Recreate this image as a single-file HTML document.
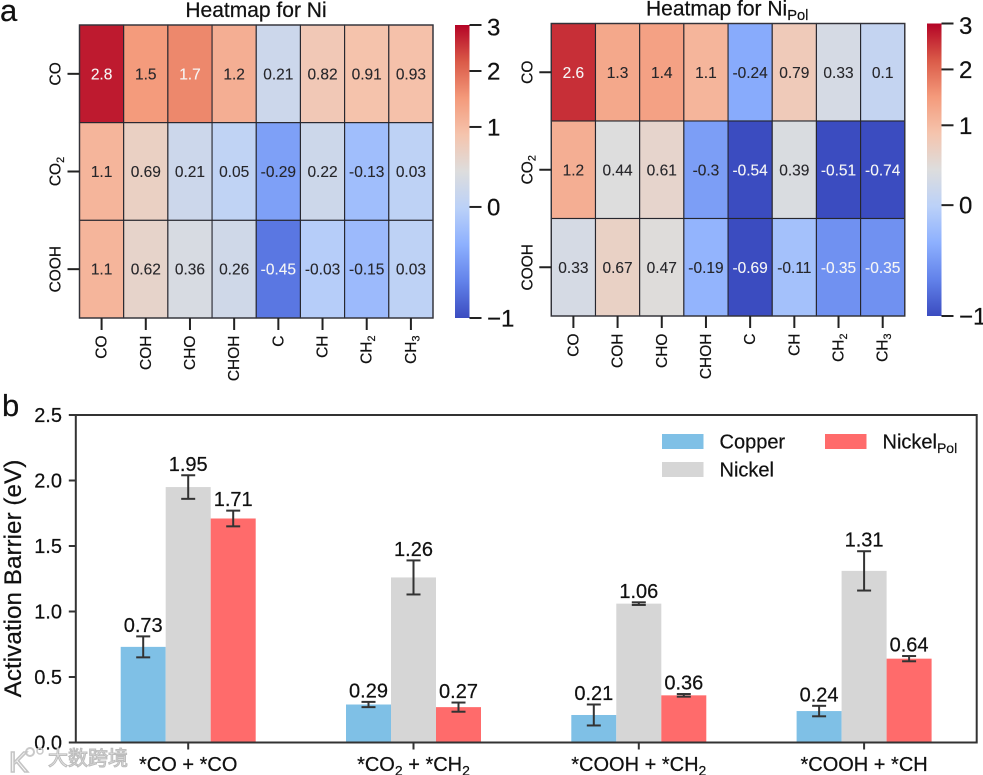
<!DOCTYPE html>
<html lang="en">
<head>
<meta charset="utf-8">
<title>Heatmaps and activation barriers</title>
<style>
html,body{margin:0;padding:0;background:#fff;}
body{width:983px;height:775px;overflow:hidden;}
svg{display:block;filter:blur(.35px);}
text{font-family:"Liberation Sans","Noto Sans CJK SC",sans-serif;fill:#111;stroke:#111;stroke-width:.22px;}
</style>
</head>
<body>
<svg id="figure" xmlns="http://www.w3.org/2000/svg" width="983" height="775" viewBox="0 0 983 775">
  <defs>
    <linearGradient id="coolwarm-gradient" x1="0" y1="1" x2="0" y2="0">
      <stop offset="0" stop-color="#3b4cc0"/>
      <stop offset="0.125" stop-color="#6282ea"/>
      <stop offset="0.25" stop-color="#8db0fe"/>
      <stop offset="0.375" stop-color="#bbd1f8"/>
      <stop offset="0.5" stop-color="#dddddd"/>
      <stop offset="0.625" stop-color="#f5c4ad"/>
      <stop offset="0.75" stop-color="#f49a7b"/>
      <stop offset="0.875" stop-color="#da5a48"/>
      <stop offset="1" stop-color="#b40426"/>
    </linearGradient>
  </defs>
  <text x="0" y="21" font-size="31">a</text>
  <text x="2" y="416" font-size="31">b</text>
  <g id="panel-a"></g>
  <g id="panel-b"></g>
  <g id="watermark">
    <circle cx="30" cy="752" r="4" fill="none" stroke="#c9c9c9" stroke-width="2"/>
    <circle cx="40" cy="751" r="3" fill="none" stroke="#c9c9c9" stroke-width="1.5"/>
    <text x="9" y="772" font-size="29" style="fill:#fff;stroke:#c4c4c4;stroke-width:1.6px;">K</text>
    <text x="48" y="765" font-size="20" style="fill:#f4f4f4;stroke:#bdbdbd;stroke-width:1.1px;">大数跨境</text>
  </g>
</svg>
<script>
/* ---------- heatmap data ---------- */
const heatmapColumns = ["CO", "COH", "CHO", "CHOH", "C", "CH", "CH_2", "CH_3"];
const heatmapRows = ["CO", "CO_2", "COOH"];
const niValues = [
  [2.8, 1.5, 1.7, 1.2, 0.21, 0.82, 0.91, 0.93],
  [1.1, 0.69, 0.21, 0.05, -0.29, 0.22, -0.13, 0.03],
  [1.1, 0.62, 0.36, 0.26, -0.45, -0.03, -0.15, 0.03]
];
const niPolValues = [
  [2.6, 1.3, 1.4, 1.1, -0.24, 0.79, 0.33, 0.1],
  [1.2, 0.44, 0.61, -0.3, -0.54, 0.39, -0.51, -0.74],
  [0.33, 0.67, 0.47, -0.19, -0.69, -0.11, -0.35, -0.35]
];
const colorbarTicks = [-1, 0, 1, 2, 3];
const colorbarTickLabels = ["\u22121", "0", "1", "2", "3"];

/* ---------- bar chart data ---------- */
const barCategories = ["*CO + *CO", "*CO_2 + *CH_2", "*COOH + *CH_2", "*COOH + *CH"];
const copperValues = [0.73, 0.29, 0.21, 0.24];
const nickelValues = [1.95, 1.26, 1.06, 1.31];
const nickelPolValues = [1.71, 0.27, 0.36, 0.64];
const copperErrors = [0.08, 0.02, 0.08, 0.04];
const nickelErrors = [0.09, 0.13, 0.01, 0.15];
const nickelPolErrors = [0.06, 0.035, 0.01, 0.02];
const barTicks = [0, 0.5, 1, 1.5, 2, 2.5];
const barTickLabels = ["0.0", "0.5", "1.0", "1.5", "2.0", "2.5"];

/* ---------- helpers ---------- */
const SVG_NS = "http://www.w3.org/2000/svg";
const INK = "#222";

function shape(parent, tag, attrs, name) {
  const el = document.createElementNS(SVG_NS, tag);
  for (const k in attrs) el.setAttribute(k, attrs[k]);
  
  
  parent.appendChild(el);
  return el;
}
/* "_x" marks a subscript run: CO_2 => CO with subscript 2 */
function label(parent, str, attrs, name) {
  const el = shape(parent, "text", attrs, name);
  const parts = str.split(/_(\w+)/);
  const size = parseFloat(attrs["font-size"]);
  const drop = size * 0.22;
  parts.forEach(function (part, i) {
    if (!part) return;
    const t = document.createElementNS(SVG_NS, "tspan");
    t.textContent = part;
    if (i % 2 === 1) {
      t.setAttribute("font-size", size * 0.7);
      t.setAttribute("dy", drop);
    } else if (i > 0) {
      t.setAttribute("dy", -drop);
    }
    el.appendChild(t);
  });
  return el;
}

/* ---------- colour scale ---------- */
const cmapStops = [[59,76,192],[98,130,234],[141,176,254],[187,209,248],[221,221,221],[245,196,173],[244,154,123],[218,90,72],[180,4,38]];
const tickFractions = [0, 0.379, 0.652, 0.843, 1];
const cellDomain = [-0.5, -0.45, -0.3, 0, 1, 2, 3];
const cellFractions = [0, 0.1, 0.2, 0.379, 0.652, 0.843, 1];

function piecewise(v, domain, range) {
  if (v <= domain[0]) return range[0];
  for (let i = 1; i < domain.length; i++) {
    if (v <= domain[i]) {
      return range[i-1] + (v - domain[i-1]) / (domain[i] - domain[i-1]) * (range[i] - range[i-1]);
    }
  }
  return range[range.length - 1];
}
function coolwarm(p) {
  const s = Math.min(p, 0.9999) * (cmapStops.length - 1);
  const i = Math.floor(s), f = s - i;
  const c = cmapStops[i].map(function (a, k) { return Math.round(a + (cmapStops[i+1][k] - a) * f); });
  return "rgb(" + c.join(",") + ")";
}
function cellColor(v) { return coolwarm(piecewise(v, cellDomain, cellFractions)); }

/* ---------- heatmaps ---------- */
function drawHeatmap(cfg) {
  const root = document.getElementById("panel-a");
  const g = shape(root, "g", {}, cfg.name);
  const cols = heatmapColumns.length, rows = heatmapRows.length;
  const cw = cfg.width / cols, ch = cfg.height / rows;
  const xAt = function (c) { return cfg.x + c * cw; };
  const yAt = function (r) { return cfg.y + r * ch; };

  label(g, cfg.title, {x: cfg.titleX, y: cfg.y - 8, "font-size": 21, "text-anchor": cfg.titleAnchor}, "heatmap-title");

  cfg.values.forEach(function (row, r) {
    row.forEach(function (v, c) {
      shape(g, "rect", {x: xAt(c), y: yAt(r), width: cw, height: ch, fill: cellColor(v),
        stroke: "#26262e", "stroke-width": 1.1}, "heatmap-cell");
      const txt = label(g, String(v), {x: xAt(c) + cw / 2, y: yAt(r) + ch / 2 + 5.5,
        "font-size": 15.5, "text-anchor": "middle"}, "cell-value");
      const cellInk = (v >= 1.7 || v <= -0.35) ? "#f6f6f6" : "#26262a";
      txt.style.fill = cellInk;
      txt.style.stroke = cellInk;
      txt.style.strokeWidth = "0.12px";
    });
  });
  shape(g, "rect", {x: cfg.x, y: cfg.y, width: cfg.width, height: cfg.height, fill: "none",
    stroke: "#33333a", "stroke-width": 1.4}, "heatmap-frame");

  heatmapRows.forEach(function (name, r) {
    const cy = yAt(r) + ch / 2;
    shape(g, "line", {x1: cfg.x - 12, x2: cfg.x, y1: cy, y2: cy, stroke: INK, "stroke-width": 2}, "row-tick");
    label(g, name, {transform: "translate(" + (cfg.x - 19) + "," + cy + ") rotate(-90)", "font-size": 15.5,
      "text-anchor": "middle"}, "row-label");
  });
  heatmapColumns.forEach(function (name, c) {
    const cx = xAt(c) + cw / 2;
    shape(g, "line", {x1: cx, x2: cx, y1: cfg.y + cfg.height, y2: cfg.y + cfg.height + 12,
      stroke: INK, "stroke-width": 2}, "column-tick");
    label(g, name, {transform: "translate(" + (cx + 5) + "," + (cfg.y + cfg.height + 17.5) + ") rotate(-90)",
      "font-size": 15.5, "text-anchor": "end"}, "column-label");
  });

  /* colour bar */
  const bx = cfg.barX, bw = 14.5;
  shape(g, "rect", {x: bx, y: cfg.y, width: bw, height: cfg.height, fill: "url(#coolwarm-gradient)"}, "colorbar");
  colorbarTicks.forEach(function (t, i) {
    const ty = cfg.y + cfg.height * (1 - piecewise(t, colorbarTicks, tickFractions));
    shape(g, "line", {x1: bx + bw, x2: bx + bw + 12, y1: ty, y2: ty, stroke: INK, "stroke-width": 2}, "colorbar-tick");
    label(g, colorbarTickLabels[i], {x: bx + bw + 17.5, y: Math.max(ty, cfg.y + 2) + 8.5, "font-size": 24}, "colorbar-tick-label");
  });
}
drawHeatmap({name: "heatmap-ni", title: "Heatmap for Ni", titleX: 256, titleAnchor: "middle",
  values: niValues, x: 79.5, y: 25, width: 353.5, height: 293, barX: 455});
drawHeatmap({name: "heatmap-ni-pol", title: "Heatmap for Ni_Pol", titleX: 646, titleAnchor: "start",
  values: niPolValues, x: 551.3, y: 23.5, width: 353.5, height: 292.5, barX: 927});

/* ---------- bar chart ---------- */
const plot = {left: 75.8, right: 976.7, top: 415, bottom: 742.5, max: 2.5};
const yScale = function (v) { return plot.bottom - v / plot.max * (plot.bottom - plot.top); };
const groupX = function (i) { return 188.2 + i * 225.3; };
const barWidth = 45;

const seriesList = [
  {name: "copper", color: "#7fc0e6", values: copperValues, errors: copperErrors},
  {name: "nickel", color: "#d6d6d6", values: nickelValues, errors: nickelErrors},
  {name: "nickel-pol", color: "#ff6b6b", values: nickelPolValues, errors: nickelPolErrors}
];

const panelB = document.getElementById("panel-b");
const barLayer = shape(panelB, "g", {}, "bars");
seriesList.forEach(function (s, si) {
  s.values.forEach(function (v, i) {
    const cx = groupX(i) + (si - 1) * barWidth;
    shape(barLayer, "rect", {x: cx - barWidth / 2, y: yScale(v), width: barWidth, height: plot.bottom - yScale(v), fill: s.color}, "bar-" + s.name);
  });
});
seriesList.forEach(function (s, si) {
  s.values.forEach(function (v, i) {
    const cx = groupX(i) + (si - 1) * barWidth;
    const hi = yScale(v + s.errors[i]), lo = yScale(v - s.errors[i]);
    shape(barLayer, "line", {x1: cx, x2: cx, y1: hi, y2: lo, stroke: "#333", "stroke-width": 2}, "error-bar");
    shape(barLayer, "line", {x1: cx - 7, x2: cx + 7, y1: hi, y2: hi, stroke: "#333", "stroke-width": 2}, "error-cap-top");
    shape(barLayer, "line", {x1: cx - 7, x2: cx + 7, y1: lo, y2: lo, stroke: "#333", "stroke-width": 2}, "error-cap-bottom");
    label(barLayer, v.toFixed(2), {x: cx, y: hi - 4.5, "font-size": 20, "text-anchor": "middle"}, "bar-value");
  });
});

shape(panelB, "rect", {x: plot.left, y: plot.top, width: plot.right - plot.left, height: plot.bottom - plot.top,
  fill: "none", stroke: "#333", "stroke-width": 2}, "plot-frame");

barTicks.forEach(function (t, i) {
  const y = yScale(t);
  shape(panelB, "line", {x1: plot.left - 7, x2: plot.left, y1: y, y2: y, stroke: "#333", "stroke-width": 2}, "y-tick");
  label(panelB, barTickLabels[i], {x: 62, y: y + 7, "font-size": 20, "text-anchor": "end"}, "y-tick-label");
});
barCategories.forEach(function (c, i) {
  const x = groupX(i);
  shape(panelB, "line", {x1: x, x2: x, y1: plot.bottom, y2: plot.bottom + 7, stroke: "#333", "stroke-width": 2}, "x-tick");
  label(panelB, c, {x: x, y: 771, "font-size": 20, "text-anchor": "middle"}, "x-tick-label");
});
label(panelB, "Activation Barrier (eV)", {transform: "translate(21,578.5) rotate(-90)", "font-size": 24.3, "text-anchor": "middle"}, "y-axis-title");

/* legend */
const legend = shape(panelB, "g", {}, "legend");
const legendEntries = [
  {text: "Copper", color: "#7fc0e6", x: 662, y: 434},
  {text: "Nickel", color: "#d6d6d6", x: 662, y: 462},
  {text: "Nickel_Pol", color: "#ff6b6b", x: 825, y: 434}
];
legendEntries.forEach(function (e) {
  shape(legend, "rect", {x: e.x, y: e.y, width: 41.5, height: 15, fill: e.color}, "legend-swatch");
  label(legend, e.text, {x: e.x + 57.5, y: e.y + 14.5, "font-size": 20}, "legend-label");
});
</script>
</body>
</html>
